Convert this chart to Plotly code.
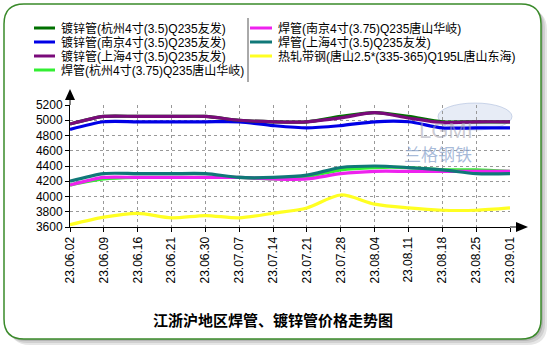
import plotly.graph_objects as go

dates = ["23.06.02", "23.06.09", "23.06.16", "23.06.21", "23.06.30", "23.07.07", "23.07.14",
         "23.07.21", "23.07.28", "23.08.04", "23.08.11", "23.08.18", "23.08.25", "23.09.01"]

names = [
    "镀锌管(杭州4寸(3.5)Q235友发)",
    "镀锌管(南京4寸(3.5)Q235友发)",
    "镀锌管(上海4寸(3.5)Q235友发)",
    "焊管(杭州4寸(3.75)Q235唐山华岐)",
    "焊管(南京4寸(3.75)Q235唐山华岐)",
    "焊管(上海4寸(3.5)Q235友发)",
    "热轧带钢(唐山2.5*(335-365)Q195L唐山东海)",
]
colors = ["#007000", "#0000e6", "#7a0a7a", "#33ee33", "#ee22ee", "#107878", "#ffff22"]

galv_hz = [4950, 5050, 5050, 5050, 5050, 5000, 4980, 4980, 5050, 5100, 5050, 4980, 4980, 4980]
galv_nj = [4880, 4980, 4980, 4980, 4980, 4980, 4930, 4900, 4930, 4980, 4980, 4900, 4900, 4900]
galv_sh = [4950, 5050, 5050, 5050, 5050, 5000, 4980, 4980, 5030, 5100, 5030, 4970, 4980, 4980]
weld_hz = [4150, 4230, 4250, 4250, 4250, 4250, 4230, 4260, 4350, 4380, 4380, 4350, 4350, 4330]
weld_nj = [4150, 4250, 4250, 4250, 4250, 4250, 4230, 4230, 4300, 4330, 4330, 4330, 4330, 4330]
weld_sh = [4200, 4300, 4300, 4300, 4300, 4250, 4250, 4280, 4380, 4400, 4380, 4350, 4300, 4300]
hot_ts = [3630, 3730, 3780, 3720, 3750, 3720, 3780, 3850, 4020, 3900, 3850, 3820, 3820, 3850]

series = [galv_hz, galv_nj, galv_sh, weld_hz, weld_nj, weld_sh, hot_ts]
y_ticks = [3600, 3800, 4000, 4200, 4400, 4600, 4800, 5000, 5200]
title_text = "江浙沪地区焊管、镀锌管价格走势图"

W, H = 550, 350
L, R, T, B = 70, 40, 105, 123
PW, PH = W - L - R, H - T - B


def px(x):
    return (x - L) / PW


def py(y):
    return (H - B - y) / PH


FONT = "Arial, 'Liberation Sans', 'Noto Sans CJK SC', sans-serif"

fig = go.Figure()
draw_order = [6, 3, 4, 5, 1, 0, 2]
for i in draw_order:
    fig.add_trace(go.Scatter(x=dates, y=series[i], mode="lines", name=names[i],
                             line=dict(color=colors[i], width=3.2, shape="spline", smoothing=0.8),
                             showlegend=False, hoverinfo="skip"))

shapes = []
annotations = []


def rrect(x0, y0, x1, y1, r):
    X0, X1 = px(x0), px(x1)
    Y0, Y1 = py(y0), py(y1)
    rx, ry = r / PW, r / PH
    return (f"M {X0+rx},{Y0} L {X1-rx},{Y0} Q {X1},{Y0} {X1},{Y0-ry} L {X1},{Y1+ry} "
            f"Q {X1},{Y1} {X1-rx},{Y1} L {X0+rx},{Y1} Q {X0},{Y1} {X0},{Y1+ry} "
            f"L {X0},{Y0-ry} Q {X0},{Y0} {X0+rx},{Y0} Z")


for off, col in [(6, "#e6e6e6"), (4, "#d0d0d0"), (2, "#b5b5b5")]:
    shapes.append(dict(type="path", xref="paper", yref="paper", path=rrect(4 + off, 4 + off, 541 + off, 339 + off, 20),
                       fillcolor=col, line=dict(width=0), layer="below"))
shapes.append(dict(type="path", xref="paper", yref="paper", path=rrect(4, 4, 541, 339, 20),
                   fillcolor="white", line=dict(color="#3a8a2a", width=1.5), layer="below"))

# legend (manual)
rows_left = [28, 42, 56, 70]
for k in range(7):
    if k < 4:
        y = rows_left[k]
        x0, x1, xt = 34, 55, 59
    else:
        y = rows_left[k - 4]
        x0, x1, xt = 250, 272, 276
    shapes.append(dict(type="line", xref="paper", yref="paper", x0=px(x0), x1=px(x1), y0=py(y), y1=py(y),
                       line=dict(color=colors[k], width=3)))
    annotations.append(dict(xref="paper", yref="paper", x=px(xt), y=py(y), text=names[k], showarrow=False,
                            xanchor="left", yanchor="middle", font=dict(family=FONT, size=12, color="#000")))
shapes.append(dict(type="line", xref="paper", yref="paper", x0=px(248), x1=px(248), y0=py(18), y1=py(82),
                   line=dict(color="#555", width=1)))

# axis extensions and arrows
shapes.append(dict(type="line", xref="paper", yref="paper", x0=0, x1=0, y0=1, y1=py(98),
                   line=dict(color="black", width=1)))
shapes.append(dict(type="path", xref="paper", yref="paper",
                   path=f"M {px(65)},{py(100)} L {px(75)},{py(100)} L {px(70)},{py(89)} Z",
                   fillcolor="black", line=dict(width=0)))
shapes.append(dict(type="line", xref="paper", yref="paper", x0=1, x1=px(517), y0=0, y1=0,
                   line=dict(color="black", width=1)))
shapes.append(dict(type="path", xref="paper", yref="paper",
                   path=f"M {px(516)},{py(222)} L {px(516)},{py(232)} L {px(528)},{py(227)} Z",
                   fillcolor="black", line=dict(width=0)))

# watermark
shapes.append(dict(type="circle", xref="paper", yref="paper", x0=px(438), x1=px(512), y0=py(103), y1=py(130),
                   fillcolor="rgba(185,200,228,0.35)", line=dict(color="rgba(150,170,210,0.45)", width=1), layer="below"))
annotations.append(dict(xref="paper", yref="paper", x=px(475), y=py(116), text="LGMI", showarrow=False,
                        font=dict(family=FONT, size=22, color="rgba(160,160,175,0.55)")))
annotations.append(dict(xref="paper", yref="paper", x=px(474), y=py(153), text="兰格钢铁", showarrow=False,
                        font=dict(family="'Noto Sans CJK SC'", size=17, color="rgba(140,165,205,0.75)")))

# title
annotations.append(dict(xref="paper", yref="paper", x=px(273), y=py(319), text="<b>" + title_text + "</b>",
                        showarrow=False, yanchor="middle",
                        font=dict(family="'Noto Sans CJK SC'", size=15, color="#000")))

fig.update_layout(
    width=W, height=H, margin=dict(l=L, r=R, t=T, b=B),
    paper_bgcolor="white", plot_bgcolor="white",
    font=dict(family=FONT, size=12, color="#000"),
    shapes=shapes, annotations=annotations, showlegend=False,
    xaxis=dict(type="category", range=[0, len(dates) - 1], tickangle=-90, showgrid=True,
               gridcolor="#999", griddash="dot", gridwidth=1, showline=True, linecolor="black",
               ticks="outside", ticklen=4, tickcolor="black", tickfont=dict(size=12), fixedrange=True),
    yaxis=dict(range=[3600, 5200], tickvals=y_ticks, showgrid=True, gridcolor="#999", griddash="dot",
               gridwidth=1, showline=True, linecolor="black", ticks="outside", ticklen=4, tickcolor="black",
               zeroline=False, tickfont=dict(size=12), fixedrange=True),
)

fig.write_html("out.html")
